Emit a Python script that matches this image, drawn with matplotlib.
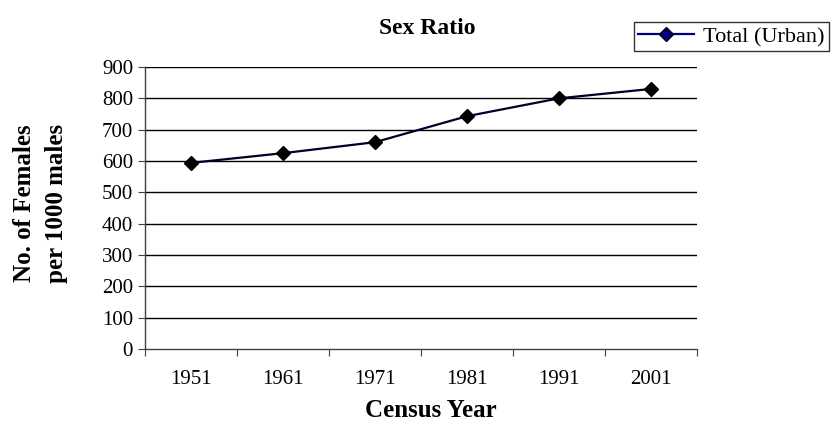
import matplotlib
matplotlib.use("Agg")
import matplotlib.pyplot as plt

years = ["1951", "1961", "1971", "1981", "1991", "2001"]
sex_ratio = [594, 625, 660, 743, 800, 830]
yticks = [0, 100, 200, 300, 400, 500, 600, 700, 800, 900]

plt.rcParams['font.family'] = ['Liberation Serif', 'DejaVu Serif']

W, H = 833, 425
fig = plt.figure(figsize=(W/100, H/100), dpi=100)
ax = fig.add_axes([145/W, 1-349/H, (697-145)/W, (349-67)/H])

x = list(range(len(years)))
ax.plot(x, sex_ratio, color='#00002a', lw=1.6, marker='D', markersize=7.5,
        markerfacecolor='#000000', markeredgecolor='#000000', label='Total (Urban)', zorder=3)

ax.set_xlim(-0.5, len(years) - 0.5)
ax.set_ylim(0, 900)
ax.set_yticks(yticks)
ax.set_yticklabels([str(v) for v in yticks], fontsize=15)
ax.set_xticks([i - 0.5 for i in range(len(years) + 1)])
ax.set_xticklabels([])
ax.set_xticks(x, minor=True)
ax.set_xticklabels(years, minor=True, fontsize=15)
ax.tick_params(axis='x', which='minor', length=0, pad=15)
ax.tick_params(axis='x', which='major', direction='out', length=5, color='#404040')
ax.tick_params(axis='y', direction='out', length=5, color='#404040', pad=3.6)

for v in yticks[1:]:
    ax.axhline(v, color='black', lw=1, zorder=1)

for s in ['top', 'right']:
    ax.spines[s].set_visible(False)
for s in ['left', 'bottom']:
    ax.spines[s].set_color('#404040')
    ax.spines[s].set_linewidth(1)

fig.text(427/W, 1-33.5/H, 'Sex Ratio', ha='center', va='baseline', fontsize=17, fontweight='bold')
fig.text(431/W, 1-417/H, 'Census Year', ha='center', va='baseline', fontsize=18, fontweight='bold')
fig.text(41/W, 1-203/H, 'No. of Females\nper 1000 males', ha='center', va='center',
         rotation=90, fontsize=18, fontweight='bold', linespacing=1.5)

leg = fig.legend(loc='upper left', bbox_to_anchor=(634/W, 1-22/H), frameon=True,
                 fancybox=False, fontsize=16, borderaxespad=0, handlelength=2.5,
                 borderpad=0.2, handletextpad=0.4)
leg.get_frame().set_edgecolor('black')
leg.get_frame().set_linewidth(1)
h = leg.legend_handles[0]
h.set_color('#000080')
h.set_markerfacecolor('#000080')
h.set_markeredgecolor('#000000')

fig.savefig('out.png', dpi=100)
